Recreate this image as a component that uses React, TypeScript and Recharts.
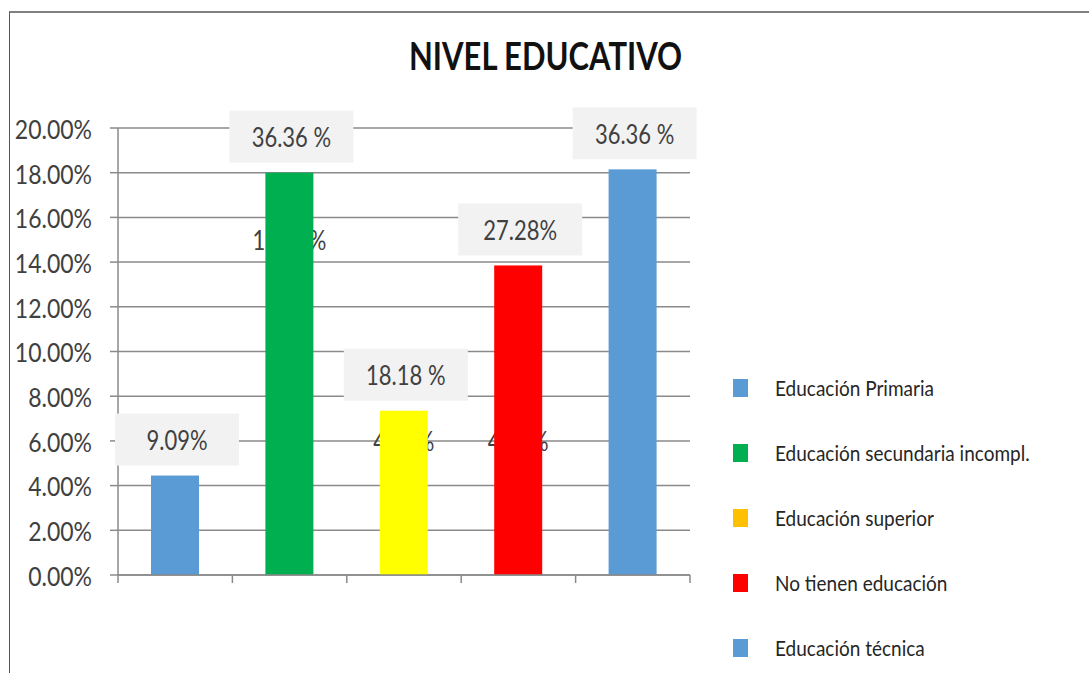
import { Bar, BarChart, CartesianGrid, Cell, LabelList, XAxis, YAxis } from 'recharts';

const CATEGORIES = [
  'Educación Primaria',
  'Educación secundaria incompl.',
  'Educación superior',
  'No tienen educación',
  'Educación técnica',
];
const VALUES = [4.45, 18.0, 7.35, 13.85, 18.15];
const TOP_LABELS = ['9.09%', '36.36 %', '18.18 %', '27.28%', '36.36 %'];
// old labels that sit behind the bars, anchored at a value on the y scale
const HIDDEN_LABELS = ['', '18.18%', '4.55%', '4.55%', ''];
const HIDDEN_AT = [0, 15, 6, 6, 0];
const Y_TICKS = [0, 2, 4, 6, 8, 10, 12, 14, 16, 18, 20];

const BAR_COLORS = ['#5B9BD5', '#00B050', '#FFFF00', '#FF0000', '#5B9BD5'];
const LEGEND_COLORS = ['#5B9BD5', '#00B050', '#FFC000', '#FF0000', '#5B9BD5'];

const FONT = 'Lato, "DejaVu Sans", sans-serif';
const GRID = '#8A8A8A';
const W = 1089;
const H = 673;
const PLOT_LEFT = 118;
const PLOT_RIGHT = 690;
const BAND = (PLOT_RIGHT - PLOT_LEFT) / CATEGORIES.length;

const data = CATEGORIES.map((name, i) => ({
  name,
  value: VALUES[i],
  top: TOP_LABELS[i],
  hidden: HIDDEN_LABELS[i],
  hiddenAt: HIDDEN_AT[i],
}));

const Stretch = ({ x, y, size, anchor = 'middle', fill = '#404040', children }: any) => (
  <text
    transform={`translate(${x} ${y}) scale(1 1.2)`}
    textAnchor={anchor}
    dominantBaseline="central"
    fontFamily={FONT}
    fontSize={size}
    fill={fill}
  >
    {children}
  </text>
);

const YTick = ({ x, y, payload }: any) => (
  <Stretch x={x} y={y} size={23} anchor="end">
    {`${Number(payload.value).toFixed(2)}%`}
  </Stretch>
);

const XTick = ({ x, y, index }: any) => {
  const left = x - BAND / 2;
  return (
    <g>
      <line x1={left} x2={left} y1={y} y2={y + 8} stroke={GRID} strokeWidth={1.5} />
      {index === CATEGORIES.length - 1 && (
        <line x1={x + BAND / 2} x2={x + BAND / 2} y1={y} y2={y + 8} stroke={GRID} strokeWidth={1.5} />
      )}
    </g>
  );
};

const BarShape = (props: any) => {
  const { x, y, width, height, fill, payload } = props;
  const ty = y + height - (payload.hiddenAt * height) / payload.value;
  return (
    <g>
      {payload.hidden && (
        <Stretch x={x + width / 2} y={ty} size={22}>
          {payload.hidden}
        </Stretch>
      )}
      <rect x={x} y={y} width={width} height={height} fill={fill} />
    </g>
  );
};

const TopLabel = (props: any) => {
  const { x, y, width, value } = props;
  const cx = x + width / 2 + 2;
  const bw = 124;
  const bh = 52;
  const by = y - 10 - bh;
  return (
    <g>
      <rect x={cx - bw / 2} y={by} width={bw} height={bh} fill="#F2F2F2" />
      <Stretch x={cx} y={by + bh / 2} size={22}>
        {value}
      </Stretch>
    </g>
  );
};

const LegendBox = () => (
  <div style={{ position: 'absolute', left: 733, top: 355, fontFamily: FONT }}>
    {CATEGORIES.map((c, i) => (
      <div key={c} style={{ display: 'flex', alignItems: 'center', height: 65 }}>
        <div style={{ width: 15, height: 18, background: LEGEND_COLORS[i], marginRight: 27 }} />
        <div style={{ fontSize: 19, color: '#262626', transform: 'scaleY(1.15)', whiteSpace: 'nowrap' }}>{c}</div>
      </div>
    ))}
  </div>
);

export default function App() {
  return (
    <div style={{ position: 'absolute', left: 0, top: 0, width: W, height: H, background: '#fff' }}>
      <div
        style={{
          position: 'absolute',
          left: 9,
          top: 11,
          right: 0,
          bottom: 0,
          borderTop: '2px solid #808080',
          borderLeft: '1px solid #555',
        }}
      />
      <div
        style={{
          position: 'absolute',
          left: 0,
          width: 1089,
          top: 36,
          textAlign: 'center',
          fontFamily: FONT,
          fontWeight: 700,
          fontSize: 31,
          color: '#111',
          transform: 'scaleY(1.22)',
          paddingLeft: 1,
        }}
      >
        NIVEL EDUCATIVO
      </div>
      <div style={{ position: 'absolute', left: 0, top: 0 }}>
        <BarChart
          width={W}
          height={H}
          data={data}
          margin={{ top: 128, right: W - PLOT_RIGHT, bottom: 68, left: 0 }}
          barSize={48}
        >
          <CartesianGrid vertical={false} stroke={GRID} strokeWidth={1.5} />
          <XAxis
            dataKey="name"
            height={30}
            axisLine={{ stroke: GRID, strokeWidth: 1.5 }}
            tickLine={false}
            tick={<XTick />}
            tickMargin={0}
            tickSize={0}
            interval={0}
          />
          <YAxis
            width={PLOT_LEFT}
            domain={[0, 20]}
            ticks={Y_TICKS}
            interval={0}
            axisLine={{ stroke: GRID, strokeWidth: 1.5 }}
            tickLine={{ stroke: GRID, strokeWidth: 1.5 }}
            tickSize={8}
            tickMargin={18}
            tick={<YTick />}
          />
          <Bar dataKey="value" isAnimationActive={false} shape={<BarShape />}>
            {data.map((d, i) => (
              <Cell key={d.name} fill={BAR_COLORS[i]} />
            ))}
            <LabelList dataKey="top" content={<TopLabel />} />
          </Bar>
        </BarChart>
      </div>
      <LegendBox />
    </div>
  );
}
